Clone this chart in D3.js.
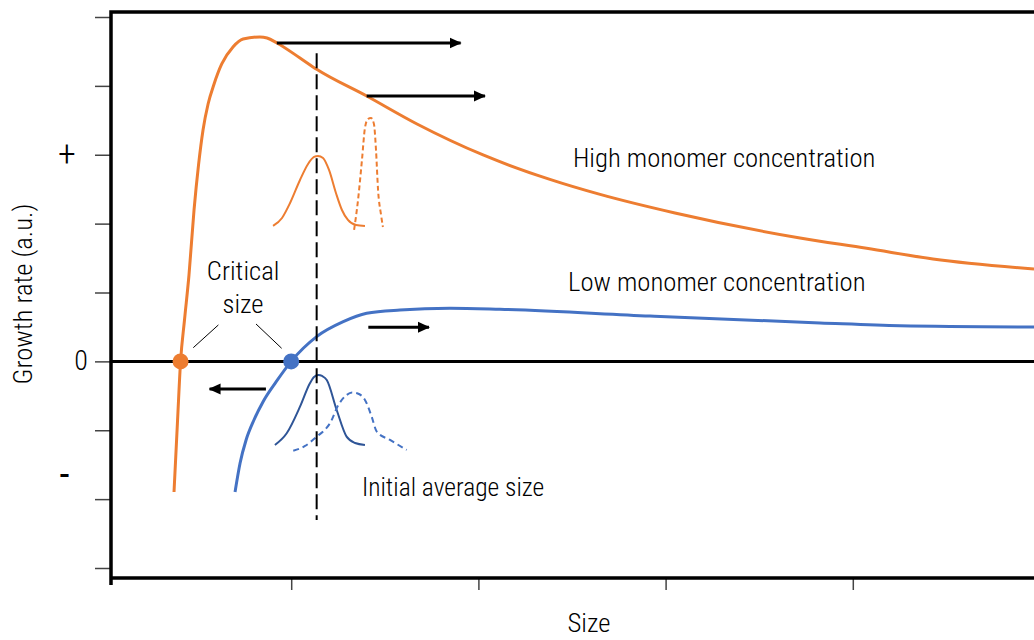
<!DOCTYPE html>
<html>
<head>
<meta charset="utf-8">
<script src="https://cdn.jsdelivr.net/npm/d3@7"></script>
<style>
  html, body { margin: 0; padding: 0; background: #fff; }
  svg { display: block; font-family: "Roboto Condensed", "Liberation Sans Narrow", "Arial Narrow", "DejaVu Sans Condensed", sans-serif; font-weight: 300; }
</style>
</head>
<body>
<svg id="chart" width="1034" height="640"></svg>
<script>
// Growth rate vs. particle size, for high and low monomer concentration (arbitrary units)
const highCurve = [
  [0.374, -1.896], [0.393, -0.851], [0.409, 0], [0.430, 0.601], [0.454, 1.254],
  [0.481, 2.198], [0.505, 2.852], [0.529, 3.360], [0.556, 3.737], [0.588, 4.028],
  [0.629, 4.318], [0.689, 4.565], [0.743, 4.681], [0.833, 4.710], [0.871, 4.695],
  [0.924, 4.623], [1.047, 4.405], [1.136, 4.241], [1.403, 3.853], [1.672, 3.447],
  [2.025, 2.997], [2.382, 2.642], [2.650, 2.424], [3.050, 2.154], [3.718, 1.791],
  [4.074, 1.642], [4.428, 1.487], [4.968, 1.341]
];
const lowCurve = [
  [0.700, -1.896], [0.727, -1.475], [0.759, -1.141], [0.801, -0.851], [0.849, -0.589],
  [0.919, -0.299], [1.000, 0], [1.136, 0.359], [1.278, 0.576], [1.403, 0.698],
  [1.581, 0.746], [1.848, 0.771], [2.115, 0.756], [2.917, 0.659], [3.825, 0.558],
  [4.252, 0.518], [4.968, 0.499]
];

// Size distributions sketched under each curve (initial = solid, later = dashed)
const highDistInitial = [
  [0.903, 1.966], [0.951, 2.082], [0.994, 2.300], [1.047, 2.634], [1.090, 2.866],
  [1.122, 2.968], [1.143, 2.982], [1.170, 2.953], [1.202, 2.779], [1.239, 2.445],
  [1.271, 2.198], [1.303, 2.053], [1.346, 1.980], [1.394, 1.966]
];
const highDistLater = [
  [1.336, 1.908], [1.357, 2.343], [1.378, 2.924], [1.394, 3.389], [1.410, 3.519],
  [1.426, 3.534], [1.442, 3.447], [1.453, 3.069], [1.464, 2.489], [1.480, 2.126],
  [1.490, 1.951]
];
const lowDistInitial = [
  [0.913, -1.214], [0.976, -1.044], [1.047, -0.658], [1.100, -0.318], [1.122, -0.226],
  [1.145, -0.197], [1.165, -0.212], [1.190, -0.270], [1.243, -0.706], [1.296, -1.093],
  [1.341, -1.185], [1.394, -1.214]
];
const lowDistLater = [
  [1.011, -1.297], [1.074, -1.228], [1.136, -1.093], [1.181, -0.990], [1.207, -0.899],
  [1.252, -0.633], [1.296, -0.488], [1.325, -0.452], [1.352, -0.463], [1.394, -0.560],
  [1.430, -0.803], [1.457, -1.021], [1.528, -1.141], [1.617, -1.286]
];

// Critical sizes (zero growth) and the initial average size
const criticalHigh = 0.409;
const criticalLow = 1.0;
const initialSize = 1.136;
const initialSizeSpan = [-2.303, 4.473];

// Growth direction arrows: [from x, to x, at y]
const arrows = [
  [0.923, 1.905, 4.623],
  [1.403, 2.035, 3.853],
  [1.412, 1.736, 0.495],
  [0.865, 0.564, -0.401]
];

// Axis ticks and labels
const xTickValues = [1, 2, 3, 4, 5];
const yTickValues = [-3, -2, -1, 0, 1, 2, 3, 4, 5];
const yLabelTexts = ["+", "0", "-"];
const yLabelValues = [3, 0, -1.7];

const ORANGE = "#ED7D31";
const BLUE = "#4472C4";
const NAVY = "#2F5597";

const svg = d3.select("#chart");
const frame = { left: 111, top: 12, bottom: 578, right: 1040 };

const x = d3.scaleLinear().domain([0, 5]).range([104, 1040]);
const y = d3.scaleLinear().domain([-3, 5]).range([568, 17]);

// Y ticks (outside the frame)
const yAxis = svg.append("g")
  .attr("transform", `translate(${frame.left - 1},0)`)
  .call(d3.axisLeft(y).tickValues(yTickValues).tickSize(15).tickFormat(""));
yAxis.select(".domain").remove();
yAxis.selectAll(".tick line").attr("stroke", "#444").attr("stroke-width", 1.5);

// X ticks (below the frame)
const xAxis = svg.append("g")
  .attr("transform", `translate(0,${frame.bottom + 1})`)
  .call(d3.axisBottom(x).tickValues(xTickValues).tickSize(11).tickFormat(""));
xAxis.select(".domain").remove();
xAxis.selectAll(".tick line").attr("stroke", "#444").attr("stroke-width", 1.5);

// Frame (open to the right)
svg.append("path")
  .attr("d", `M${frame.right},${frame.top}H${frame.left}V${frame.bottom + 7}M${frame.left},${frame.bottom}H${frame.right}`)
  .attr("fill", "none").attr("stroke", "#000").attr("stroke-width", 3.5);

// Zero growth line
svg.append("line")
  .attr("x1", frame.left).attr("x2", frame.right)
  .attr("y1", y(0)).attr("y2", y(0))
  .attr("stroke", "#000").attr("stroke-width", 3);

const smooth = d3.line().x(d => x(d[0])).y(d => y(d[1])).curve(d3.curveMonotoneX);

// Growth rate curves
svg.append("path").datum(highCurve).attr("d", smooth)
  .attr("fill", "none").attr("stroke", ORANGE).attr("stroke-width", 3);
svg.append("path").datum(lowCurve).attr("d", smooth)
  .attr("fill", "none").attr("stroke", BLUE).attr("stroke-width", 3);

// Size distributions
svg.append("path").datum(highDistInitial).attr("d", smooth)
  .attr("fill", "none").attr("stroke", ORANGE).attr("stroke-width", 2);
svg.append("path").datum(highDistLater).attr("d", smooth)
  .attr("fill", "none").attr("stroke", ORANGE).attr("stroke-width", 2)
  .attr("stroke-dasharray", "5,3");
svg.append("path").datum(lowDistInitial).attr("d", smooth)
  .attr("fill", "none").attr("stroke", NAVY).attr("stroke-width", 2);
svg.append("path").datum(lowDistLater).attr("d", smooth)
  .attr("fill", "none").attr("stroke", BLUE).attr("stroke-width", 2)
  .attr("stroke-dasharray", "6,4");

// Initial average size marker
svg.append("line")
  .attr("x1", x(initialSize)).attr("x2", x(initialSize))
  .attr("y1", y(initialSizeSpan[1])).attr("y2", y(initialSizeSpan[0]))
  .attr("stroke", "#000").attr("stroke-width", 2).attr("stroke-dasharray", "15,6");

// Arrows
svg.append("defs").append("marker")
  .attr("id", "head").attr("markerUnits", "userSpaceOnUse")
  .attr("viewBox", "0 -6 12 12").attr("refX", 11).attr("refY", 0)
  .attr("markerWidth", 12).attr("markerHeight", 12).attr("orient", "auto")
  .append("path").attr("d", "M0,-5.5L12,0L0,5.5Z").attr("fill", "#000");

svg.append("g").selectAll("line").data(arrows).join("line")
  .attr("x1", d => x(d[0])).attr("x2", d => x(d[1]))
  .attr("y1", d => y(d[2])).attr("y2", d => y(d[2]))
  .attr("stroke", "#000").attr("stroke-width", 3)
  .attr("marker-end", "url(#head)");

// Critical size points
svg.append("circle").attr("cx", x(criticalHigh)).attr("cy", y(0)).attr("r", 8).attr("fill", ORANGE);
svg.append("circle").attr("cx", x(criticalLow)).attr("cy", y(0)).attr("r", 8).attr("fill", BLUE);

// "Critical size" label with leader lines to both points
const leaders = [
  [[0.477, 0.199], [0.611, 0.529]],
  [[0.812, 0.543], [0.949, 0.190]]
];
svg.append("g").selectAll("line").data(leaders).join("line")
  .attr("x1", d => x(d[0][0])).attr("y1", d => y(d[0][1]))
  .attr("x2", d => x(d[1][0])).attr("y2", d => y(d[1][1]))
  .attr("stroke", "#000").attr("stroke-width", 1);

const fontSize = 26.7;
function label(text, px, py, anchor, size) {
  return svg.append("text").attr("x", px).attr("y", py)
    .attr("text-anchor", anchor || "start")
    .attr("font-size", size || fontSize).attr("fill", "#000").text(text);
}

label("Critical", x(0.743), y(1.182), "middle");
label("size", x(0.743), y(0.703), "middle");
label("High monomer concentration", x(2.505), y(2.828));
label("Low monomer concentration", x(2.479), y(1.022));
label("Initial average size", x(1.378), y(-1.950), "start", 25.5);

// Y value labels
yLabelTexts.forEach((t, i) => {
  const cx = [67, 81, 64.5][i];
  label(t, cx, y(yLabelValues[i]) + [11, 9, 10][i], "middle", [36, 28, 40][i])
    .attr("font-weight", [300, 300, 400][i]);
});

// Axis titles
label("Size", 589, 632, "middle");
svg.append("text")
  .attr("transform", `translate(32,294) rotate(-90)`)
  .attr("text-anchor", "middle").attr("font-size", fontSize).attr("fill", "#000")
  .text("Growth rate (a.u.)");
</script>
</body>
</html>
